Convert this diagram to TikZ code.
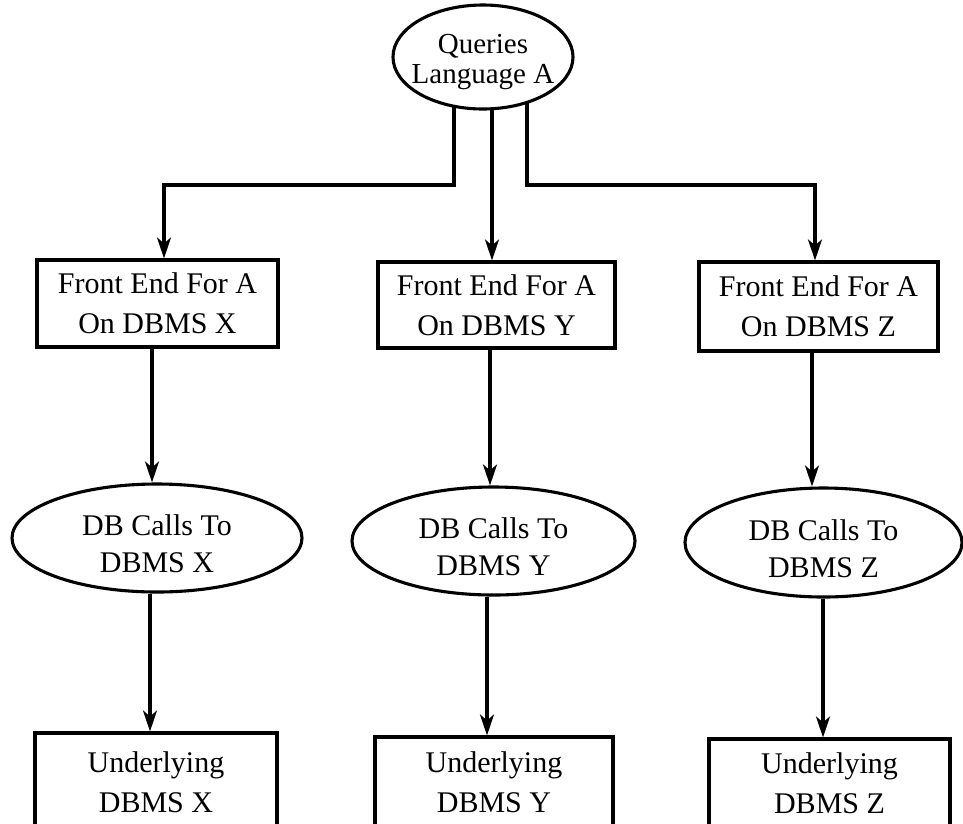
\documentclass[tikz,border=0pt]{standalone}
\usepackage{fontspec}
\setmainfont{Liberation Serif}
\usetikzlibrary{shapes.geometric,arrows.meta}
\pgfdeclarelayer{bg}
\pgfsetlayers{bg,main}
% lower a line of text without changing its reported size
\newcommand\droptext[2]{\raisebox{-#1}[\height][\depth]{#2}}
\begin{document}
\begin{tikzpicture}[x=1pt,y=-1pt,
  nodebase/.style={draw, fill=white, line width=3.1pt, align=center, inner sep=0pt,
                font=\fontsize{30}{40}\selectfont},
  box/.style={nodebase, rectangle},
  oval/.style={nodebase, ellipse, font=\fontsize{30}{37}\selectfont},
  link/.style={line width=3.1pt, -{Stealth[length=21pt,width=14pt,inset=6pt]}},
]
\useasboundingbox (0,0) rectangle (963,823);
\clip (0,0) rectangle (963,823);

% source language
\node[oval, font=\fontsize{29}{30}\selectfont, minimum width=180pt, minimum height=104pt]
  (q) at (483,57) {\makebox[0pt]{\droptext{5pt}{Queries}}\\\makebox[0pt]{\droptext{5pt}{Language A}}};

% front ends
\node[box, minimum width=241pt, minimum height=87pt] (f1) at (157.5,303.5) {Front End For A\\On DBMS X};
\node[box, minimum width=237pt, minimum height=86pt] (f2) at (496.5,305) {Front End For A\\On DBMS Y};
\node[box, minimum width=239pt, minimum height=89pt] (f3) at (818.5,306.5) {Front End For A\\On DBMS Z};

% database calls
\node[oval, minimum width=290pt, minimum height=108pt] (e1) at (157,538)
  {\droptext{6pt}{DB Calls To}\\\droptext{6pt}{DBMS X}};
\node[oval, minimum width=283pt, minimum height=108pt] (e2) at (493.5,541)
  {\droptext{6pt}{DB Calls To}\\\droptext{6pt}{DBMS Y}};
\node[oval, minimum width=277pt, minimum height=109pt] (e3) at (823.5,542.5)
  {\droptext{6pt}{DB Calls To}\\\droptext{6pt}{DBMS Z}};

% underlying systems (their lower edges run past the page)
\node[box, minimum width=242pt, minimum height=99pt] (u1) at (156,782.5) {Underlying\\DBMS X};
\node[box, minimum width=238pt, minimum height=90pt] (u2) at (494,782) {Underlying\\DBMS Y};
\node[box, minimum width=241pt, minimum height=88pt] (u3) at (829.5,783) {Underlying\\DBMS Z};

\coordinate (jl) at (164,185);
\coordinate (jr) at (815,185);

\begin{pgfonlayer}{bg}
  \draw[link] (q.center -| 454,0) |- (jl) -- (f1.north -| jl);
  \draw[link] (q.center -| 492,0) -- (f2.north -| 492,0);
  \draw[link] (q.center -| 527,0) |- (jr) -- (f3.north -| jr);

  \draw[link] (f1.south -| 152,0) -- (e1.north -| 152,0);
  \draw[link] (f2.south -| 490,0) -- (e2.north -| 490,0);
  \draw[link] (f3.south -| 812,0) -- (e3.north -| 812,0);

  \draw[link] (e1.south -| 150,0) -- (u1.north -| 150,0);
  \draw[link] (e2.south -| 487,0) -- (u2.north -| 487,0);
  \draw[link] (e3.south -| 823,0) -- (u3.north -| 823,0);
\end{pgfonlayer}
\end{tikzpicture}
\end{document}
